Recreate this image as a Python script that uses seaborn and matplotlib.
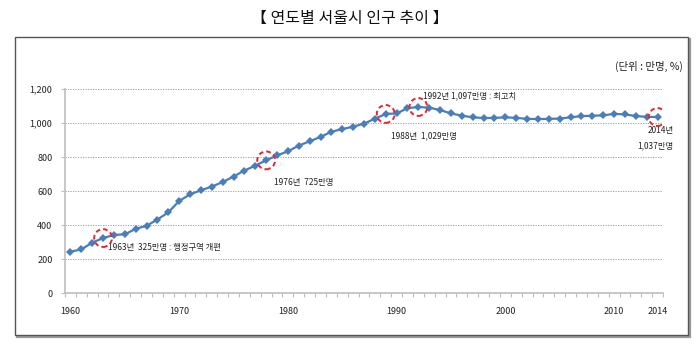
import numpy as np
import pandas as pd
import matplotlib
matplotlib.use("Agg")
import matplotlib.pyplot as plt
from matplotlib.patches import Rectangle
from matplotlib.ticker import FuncFormatter, FixedLocator
import seaborn as sns

# ---------------- data ----------------
years = list(range(1960, 2015))
population = [245, 258, 298, 325, 343, 347, 379, 397, 434, 476,
              543, 582, 606, 628, 654, 687, 722, 751, 782, 811,
              835, 869, 894, 920, 950, 966, 980, 998, 1027, 1055,
              1058, 1089, 1096, 1092, 1078, 1058, 1045, 1035, 1031, 1032,
              1035, 1032, 1026, 1025, 1026, 1028, 1035, 1042, 1045, 1046,
              1056, 1052, 1043, 1038, 1037]
x_tick_labels = [1960, 1970, 1980, 1990, 2000, 2010, 2014]
y_ticks = [0, 200, 400, 600, 800, 1000, 1200]
highlight_years = [1963, 1978, 1989, 1992, 2014]
title_text = "【 연도별 서울시 인구 추이 】"
unit_text = "(단위 : 만명, %)"
notes = ["1963년  325만명 : 행정구역 개편", "1976년  725만명", "1988년  1,029만명",
         "1992년 1,097만명 : 최고치", "2014년\n1,037만명"]

df = pd.DataFrame({"year": years, "pop": population})

sns.set_theme(style="white")
plt.rcParams["font.family"] = ["Noto Sans CJK KR", "DejaVu Sans"]

W, H = 700, 346
fig = plt.figure(figsize=(W / 100, H / 100), dpi=100)
fig.patch.set_facecolor("white")

def fx(px):
    return px / W

def fy(py):
    return 1 - py / H

# outer frame with slight shadow
fig.patches.append(Rectangle((fx(17), fy(337)), fx(688 - 15), (335 - 37) / H,
                             transform=fig.transFigure, facecolor="none",
                             edgecolor="#9a9a9a", lw=1.6, zorder=0))
fig.patches.append(Rectangle((fx(15), fy(335)), fx(688 - 15), (335 - 37) / H,
                             transform=fig.transFigure, facecolor="white",
                             edgecolor="#555555", lw=1.0, zorder=1))

fig.text(0.5, fy(18), title_text, ha="center", va="center", fontsize=11.5, color="#111111")
fig.text(fx(683), fy(66), unit_text, ha="right", va="center", fontsize=7.5, color="#222222")

ax = fig.add_axes([fx(65), fy(293.3), fx(663 - 65), (293.3 - 89.3) / H])
ax.set_facecolor("none")
ax.set_zorder(3)

color = "#4A7EBB"
sns.lineplot(data=df, x="year", y="pop", ax=ax, color=color, lw=1.6,
             marker="D", markersize=4, markeredgewidth=0, markerfacecolor=color)

ax.set_xlim(1959.5, 2014.5)
ax.set_ylim(0, 1200)
ax.set_yticks(y_ticks)
ax.yaxis.set_major_formatter(FuncFormatter(lambda v, p: f"{int(v):,}"))
ax.set_xticks(x_tick_labels)
ax.set_xticklabels([str(v) for v in x_tick_labels])
ax.xaxis.set_minor_locator(FixedLocator([y - 0.5 for y in years] + [2014.5]))
ax.set_xlabel("")
ax.set_ylabel("")

ax.grid(axis="y", linestyle=(0, (1.2, 1.2)), color="#a6a6a6", lw=0.75)
ax.grid(axis="x", visible=False)
for s in ["top", "right"]:
    ax.spines[s].set_visible(False)
for s in ["left", "bottom"]:
    ax.spines[s].set_color("#BEBEBE")
    ax.spines[s].set_linewidth(1.2)

ax.tick_params(axis="y", which="major", length=3, width=0.8, color="#BEBEBE",
               labelsize=6.5, labelcolor="#222222", pad=6, direction="out", left=True)
ax.tick_params(axis="x", which="major", length=0, labelsize=6.5, labelcolor="#222222", pad=10)
ax.tick_params(axis="x", which="minor", length=3, width=0.8, color="#BEBEBE",
               direction="out", bottom=True)

# red dashed highlight circles
hv = [population[years.index(y)] for y in highlight_years]
ax.scatter(highlight_years, hv, s=165, facecolors="none", edgecolors="#E8262A",
           linestyles=(0, (2.4, 1.6)), linewidths=1.4, zorder=5)

offsets = [(5, -9.5, "left", "center"), (8, -22, "left", "center"),
           (5, -22, "left", "center"), (5, 11, "left", "center"),
           (16, -21, "right", "center")]
for yr, v, txt, (dx, dy, ha, va) in zip(highlight_years, hv, notes, offsets):
    ax.annotate(txt, xy=(yr, v), xytext=(dx, dy), textcoords="offset pixels",
                ha=ha, va=va, fontsize=6, color="#222222", linespacing=1.9,
                annotation_clip=False)

fig.savefig("out.png", dpi=100, facecolor="white")
